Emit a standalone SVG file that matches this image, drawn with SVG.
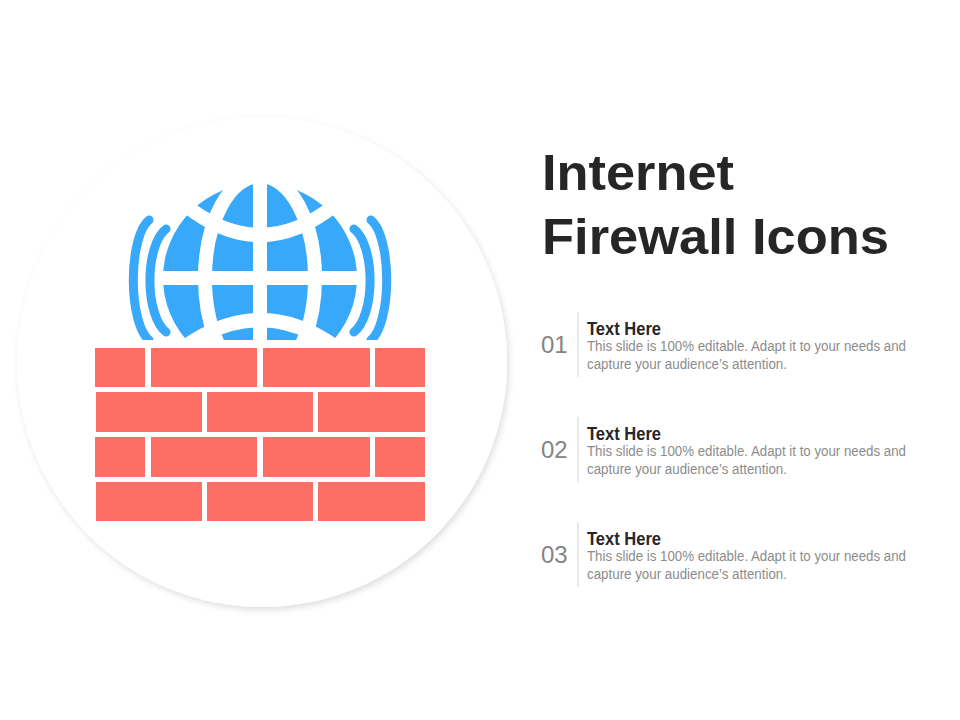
<svg xmlns="http://www.w3.org/2000/svg" width="960" height="720" viewBox="0 0 960 720">
<style>
text{font-family:"Liberation Sans",Arial,sans-serif}
.title{font-size:50px;font-weight:700;fill:#262626}
.num{font-size:24px;fill:#848484}
.head{font-size:18px;font-weight:700;fill:#262626}
.body{font-size:15.5px;fill:#8c8c8c}
.rule{stroke:#d4d4d4;stroke-width:1}
.brick{fill:#fd6e64}
.wave{fill:none;stroke:#38a8fb;stroke-width:9;stroke-linecap:round}
.gap{fill:none;stroke:#fff;stroke-width:14}
</style>
<defs>
<filter id="sh" x="-10%" y="-10%" width="120%" height="120%"><feDropShadow dx="2" dy="3" stdDeviation="3" flood-color="#000" flood-opacity=".13"/></filter>
<clipPath id="cut"><rect x="100" y="150" width="320" height="190"/></clipPath>
</defs>
<rect width="960" height="720" fill="#fff"/>
<circle id="disc" cx="262" cy="362" r="245" fill="#fff" filter="url(#sh)"/>
<g id="globe" clip-path="url(#cut)">
<ellipse cx="260" cy="278" rx="97" ry="95" fill="#38a8fb"/>
<ellipse class="gap" cx="260" cy="278" rx="55" ry="102"/>
<path class="gap" d="M260 170V345M150 278H370M185 205Q260 265 335 205M180 350Q260 290 340 350"/>
<path class="wave" d="M149 220A21 62 0 0 0 149 340M166 229A23 54 0 0 0 166 332M371 220A21 62 0 0 1 371 340M354 229A23 54 0 0 1 354 332"/>
</g>
<g id="wall" class="brick">
<rect x="95" y="348" width="50" height="39"/><rect x="151" y="348" width="106" height="39"/><rect x="263" y="348" width="107" height="39"/><rect x="375" y="348" width="50" height="39"/>
<rect x="96" y="392" width="106" height="40"/><rect x="207" y="392" width="106" height="40"/><rect x="318" y="392" width="107" height="40"/>
<rect x="95" y="437" width="50" height="40"/><rect x="151" y="437" width="106" height="40"/><rect x="263" y="437" width="107" height="40"/><rect x="375" y="437" width="50" height="40"/>
<rect x="96" y="482" width="106" height="39"/><rect x="207" y="482" width="106" height="39"/><rect x="318" y="482" width="107" height="39"/>
</g>
<g id="title"><text class="title" x="542" y="190" textLength="192" lengthAdjust="spacingAndGlyphs">Internet</text><text class="title" x="542" y="254" textLength="347" lengthAdjust="spacingAndGlyphs">Firewall Icons</text></g>
<g id="item1"><text class="num" x="541" y="353">01</text><line class="rule" x1="578" y1="312" x2="578" y2="377"/><text class="head" x="587" y="335" textLength="74" lengthAdjust="spacingAndGlyphs">Text Here</text><text class="body" x="587" y="351" textLength="319" lengthAdjust="spacingAndGlyphs">This slide is 100% editable. Adapt it to your needs and</text><text class="body" x="587" y="369" textLength="200" lengthAdjust="spacingAndGlyphs">capture your audience’s attention.</text></g>
<g id="item2"><text class="num" x="541" y="458">02</text><line class="rule" x1="578" y1="417" x2="578" y2="482"/><text class="head" x="587" y="440" textLength="74" lengthAdjust="spacingAndGlyphs">Text Here</text><text class="body" x="587" y="456" textLength="319" lengthAdjust="spacingAndGlyphs">This slide is 100% editable. Adapt it to your needs and</text><text class="body" x="587" y="474" textLength="200" lengthAdjust="spacingAndGlyphs">capture your audience’s attention.</text></g>
<g id="item3"><text class="num" x="541" y="563">03</text><line class="rule" x1="578" y1="522" x2="578" y2="587"/><text class="head" x="587" y="545" textLength="74" lengthAdjust="spacingAndGlyphs">Text Here</text><text class="body" x="587" y="561" textLength="319" lengthAdjust="spacingAndGlyphs">This slide is 100% editable. Adapt it to your needs and</text><text class="body" x="587" y="579" textLength="200" lengthAdjust="spacingAndGlyphs">capture your audience’s attention.</text></g>
</svg>
